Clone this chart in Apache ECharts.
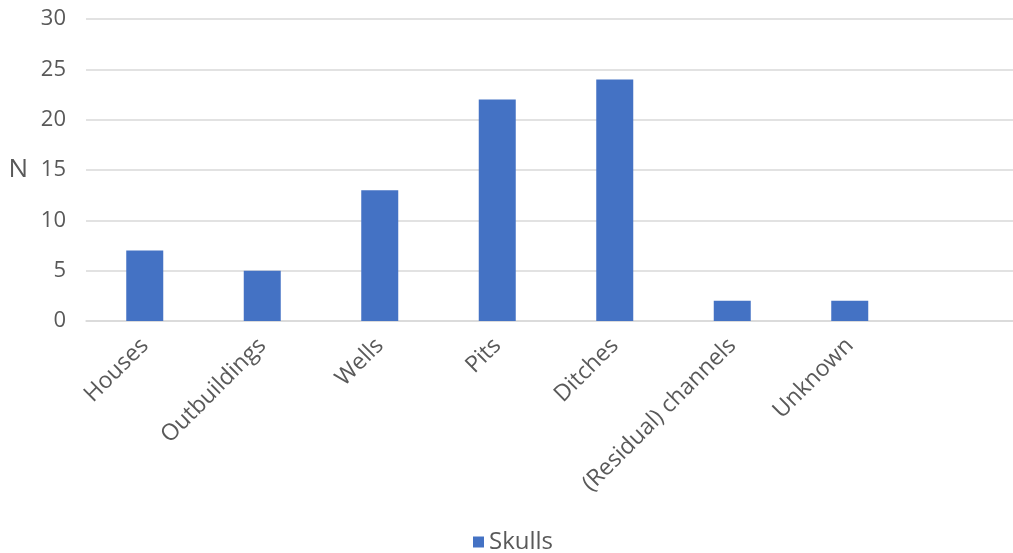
<!DOCTYPE html>
<html><head><meta charset="utf-8">
<script src="https://cdn.jsdelivr.net/npm/echarts@6/dist/echarts.min.js"></script>
<style>html,body{margin:0;padding:0;background:#fff;overflow:hidden;width:1013px;height:553px}#c{width:1026px;height:553px}</style>
</head><body><div id="c"></div>
<script>
var categories = ['Houses','Outbuildings','Wells','Pits','Ditches','(Residual) channels','Unknown',''];
var skulls = [7,5,13,22,24,2,2,null];
var yTicks = {min:0,max:30,interval:5};
var seriesName = 'Skulls';
var yName = 'N';

var font = '"Open Sans", Lato, sans-serif';
var chart = echarts.init(document.getElementById('c'), null, {renderer:'canvas'});
chart.setOption({
  animation:false,
  textStyle:{fontFamily:font},
  grid:{left:86,right:0,top:19,height:302,containLabel:false},
  legend:{bottom:-6,left:'center',itemWidth:11,itemHeight:11,icon:'rect',itemGap:10,
    textStyle:{fontSize:24,color:'#595959',fontFamily:font,padding:[0,0,0,0]},data:[seriesName]},
  xAxis:{type:'category',data:categories,
    axisLine:{lineStyle:{color:'#d9d9d9',width:1.5}},axisTick:{show:false},
    axisLabel:{rotate:45,fontSize:23,color:'#595959',margin:21,interval:0,fontFamily:font}},
  yAxis:{type:'value',min:yTicks.min,max:yTicks.max,interval:yTicks.interval,
    name:yName,nameLocation:'middle',nameRotate:0,nameGap:58,
    nameTextStyle:{fontSize:26,color:'#595959',fontFamily:font},
    axisLine:{show:false},axisTick:{show:false},
    axisLabel:{fontSize:22,color:'#595959',margin:20,fontFamily:font},
    splitLine:{lineStyle:{color:'#d9d9d9',width:1.5}}},
  series:[{name:seriesName,type:'bar',data:skulls,barWidth:37,
    itemStyle:{color:'#4472c4'}}]
});
</script></body></html>
